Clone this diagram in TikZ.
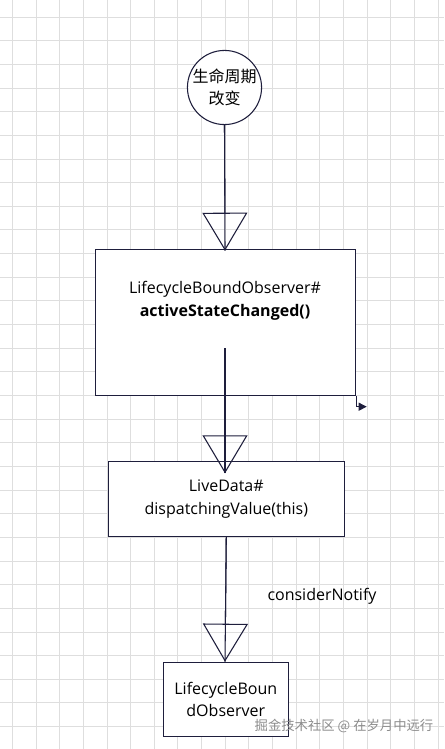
\documentclass[tikz,border=0pt]{standalone}
\usepackage{fontspec}
\setmainfont{Open Sans}
\newfontfamily\cjk{Noto Sans CJK SC}
\usetikzlibrary{arrows.meta}
\definecolor{ink}{RGB}{30,30,60}
\definecolor{gridc}{RGB}{222,222,222}
\definecolor{wmark}{RGB}{140,140,140}
\begin{document}
\begin{tikzpicture}[x=0.75pt,y=-0.75pt,
  every node/.style={font=\fontsize{12pt}{17pt}\selectfont, text=black},
  boxnode/.style={draw=ink, line width=0.8pt, fill=white, inner sep=0pt},
  link/.style={draw=ink, line width=0.8pt},
  bigtri/.style={draw=ink, line width=0.8pt, -{Triangle[open, length=28.5pt, width=33.75pt, line width=0.8pt]}},
  smalltri/.style={draw=ink, line width=0.8pt, -{Triangle[length=6pt, width=6pt]}}]
\useasboundingbox (0,0) rectangle (444,749);
\fill[white] (0,0) rectangle (444,749);
% grid
\foreach \k in {0,...,18} \draw[gridc, line width=0.6pt] ({12.3+23.65*\k},0) -- ({12.3+23.65*\k},749);
\foreach \k in {0,...,30} \draw[gridc, line width=0.6pt] (0,{17+23.65*\k}) -- (444,{17+23.65*\k});

% nodes
\node[boxnode, circle, minimum size=53.25pt, align=center, font=\cjk\fontsize{12pt}{17pt}\selectfont] (c) at (224.5,87.5) {生命周期\\改变};
\node[boxnode, minimum width=195.3pt, minimum height=109.3pt] (b1) at (225.5,322.2) {};
\node[align=center] (b1t) at (225,300.5) {LifecycleBoundObserver\#\\\textbf{activeStateChanged()}};
\node[boxnode, minimum width=177pt, minimum height=55.7pt, align=center] (b2) at (226.3,498.9) {LiveData\#\\dispatchingValue(this)};
\node[boxnode, minimum width=93.75pt, minimum height=55.8pt, align=center] (b3) at (225.8,699.5) {LifecycleBoun\\dObserver};
\node (lbl) at (322,596.7) {considerNotify};
\node[text=wmark, font=\cjk\fontsize{10pt}{12pt}\selectfont] (wm) at (344,725.7) {掘金技术社区 @ 在岁月中远行};

\coordinate (t1) at (225,250.7);
\coordinate (s2) at (225,348);
\coordinate (t2) at (225,473.3);
\coordinate (t3) at (225,661.7);
\coordinate (sa) at (366.7,406.7);

% connectors
\draw[link] (c.south) -- (t1);
\draw[bigtri] (c.south) -- (t1);
\draw[link] (s2) -- (t2);
\draw[bigtri] (s2) -- (t2);
\draw[link] (b2.south) -- (t3);
\draw[bigtri] (b2.south) -- (t3);
\draw[smalltri] (b1.south east) |- (sa);
\end{tikzpicture}
\end{document}
